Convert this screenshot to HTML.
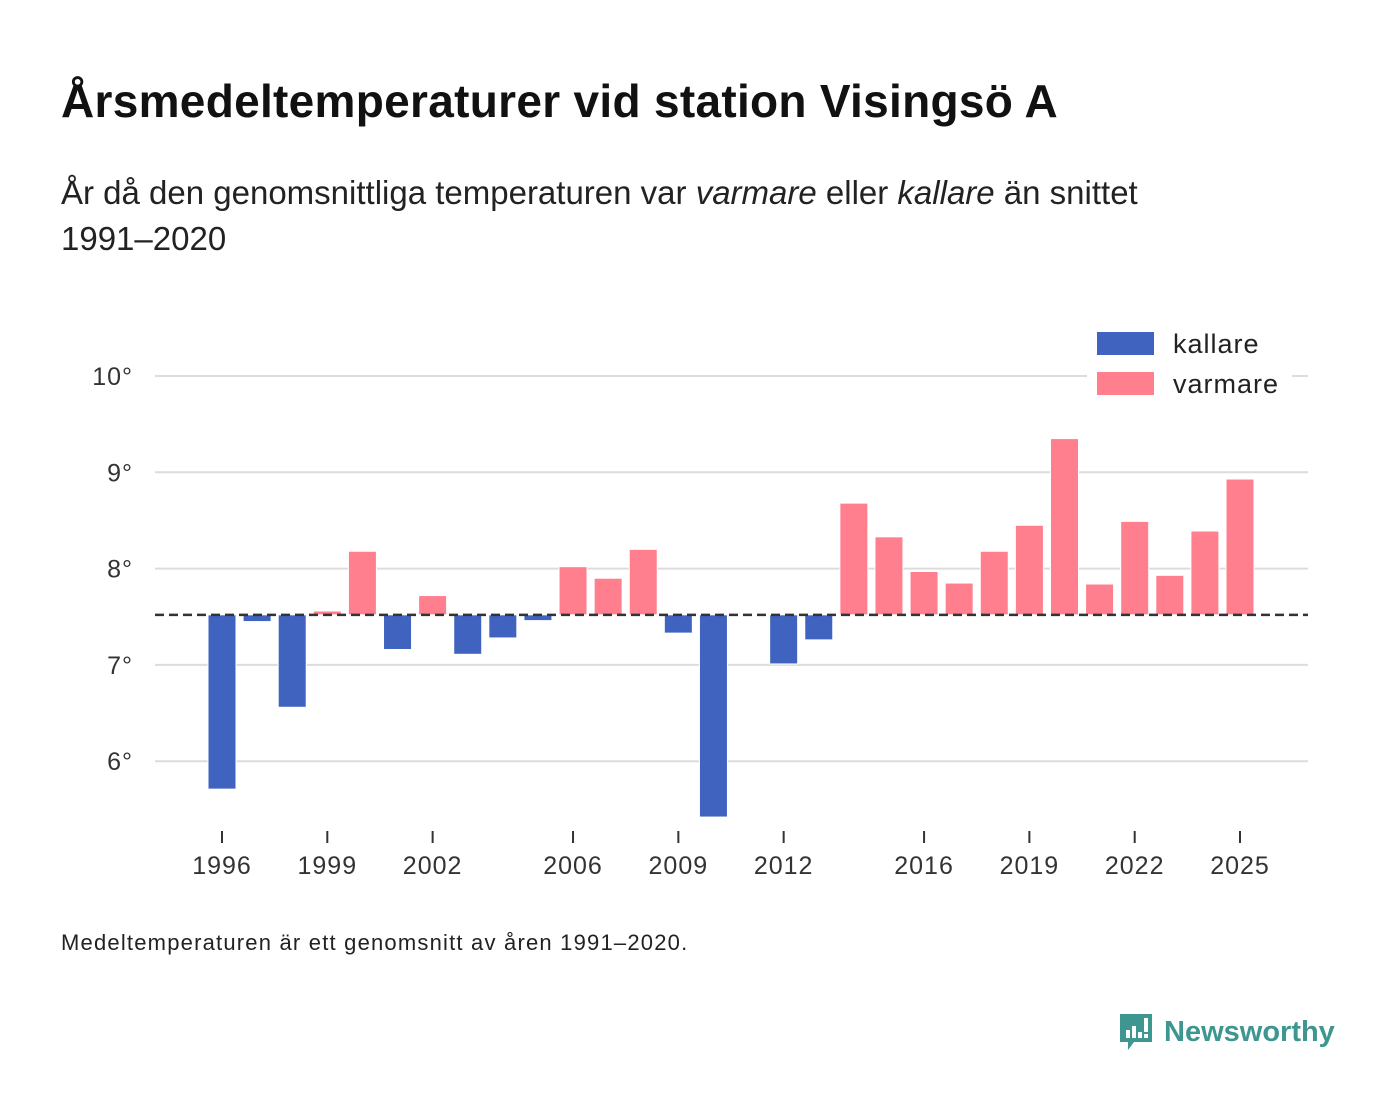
<!DOCTYPE html>
<html><head><meta charset="utf-8"><style>
body{margin:0;width:1400px;height:1116px;background:#fff;font-family:"Liberation Sans","DejaVu Sans",sans-serif;color:#111;overflow:hidden;position:relative}
.t{position:absolute;left:61px;top:74px;font-size:46px;font-weight:bold;margin:0;letter-spacing:0.3px}
.s{position:absolute;left:61px;top:170px;font-size:33px;line-height:46px;width:1190px;color:#222}
.f{position:absolute;left:61px;top:930px;font-size:22px;color:#222;letter-spacing:1.2px}
.logo{position:absolute;left:1118px;top:1010px;display:flex;align-items:center;color:#3d9690;font-size:29px;font-weight:bold}
</style></head><body>
<h1 class="t">Årsmedeltemperaturer vid station Visingsö A</h1>
<div class="s">År då den genomsnittliga temperaturen var <i>varmare</i> eller <i>kallare</i> än snittet <span style="white-space:nowrap">1991–2020</span></div>
<svg id="chart" width="1400" height="1116" style="position:absolute;left:0;top:0"></svg>
<div class="f">Medeltemperaturen är ett genomsnitt av åren 1991–2020.</div>
<div class="logo"><svg width="36" height="44" viewBox="0 0 36 44"><path d="M2 4h32v28H16l-6 8v-8H2z" fill="#3d9690"/><rect x="8" y="20" width="4" height="8" fill="#fff"/><rect x="14" y="16" width="4" height="12" fill="#fff"/><rect x="20" y="22" width="4" height="6" fill="#fff"/><rect x="26" y="8" width="4" height="14" fill="#fff"/><rect x="26" y="24" width="4" height="4" fill="#fff"/></svg><span style="margin-left:10px">Newsworthy</span></div>
<script>
const years=[1996,1997,1998,1999,2000,2001,2002,2003,2004,2005,2006,2007,2008,2009,2010,2012,2013,2014,2015,2016,2017,2018,2019,2020,2021,2022,2023,2024,2025];
const temps=[5.71,7.45,6.56,7.56,8.18,7.16,7.72,7.11,7.28,7.46,8.02,7.90,8.20,7.33,5.42,7.01,7.26,8.68,8.33,7.97,7.85,8.18,8.45,9.35,7.84,8.49,7.93,8.39,8.93];
const baseline=7.52;
const yTicks=[6,7,8,9,10];
const xTicks=[1996,1999,2002,2006,2009,2012,2016,2019,2022,2025];
const svg=document.getElementById('chart');
const NS='http://www.w3.org/2000/svg';
const x=yr=>222+(yr-1996)*(1240-222)/29;
const y=v=>376+(10-v)*96.3;
function mk(t,a){const e=document.createElementNS(NS,t);for(const k in a)e.setAttribute(k,a[k]);svg.appendChild(e);return e;}
yTicks.forEach(v=>{
 const l=mk('line',{x1:155,x2:1308,y1:y(v),y2:y(v),stroke:'#dcdcdc','stroke-width':2});
 
 
 const t=mk('text',{x:133,y:y(v)+9,'text-anchor':'end','font-size':25,fill:'#333','letter-spacing':1});
 t.textContent=v+'°';
 
 
});
xTicks.forEach(yr=>{
 const l=mk('line',{x1:x(yr),x2:x(yr),y1:831,y2:843,stroke:'#333','stroke-width':2});
 
 
 const t=mk('text',{x:x(yr),y:874,'text-anchor':'middle','font-size':25,fill:'#333','letter-spacing':1});
 t.textContent=yr;
 
 
});
years.forEach((yr,i)=>{
 const v=temps[i],y0=y(baseline),y1=y(v);
 const r=mk('rect',{x:x(yr)-14,width:28,y:Math.min(y0,y1),height:Math.abs(y1-y0),fill:v<baseline?'#3f63bf':'#ff7f8e',stroke:'#fff','stroke-width':1});
 
 
});
const bl=mk('line',{x1:155,x2:1308,y1:y(baseline),y2:y(baseline),stroke:'#333','stroke-width':2.5,'stroke-dasharray':'9,5'});


const lg=mk('rect',{x:1087,y:325,width:205,height:85,fill:'#fff'});


[['kallare','#3f63bf',332],['varmare','#ff7f8e',372]].forEach(([n,c,yy])=>{
 const r=mk('rect',{x:1097,y:yy,width:57,height:23,fill:c});
 
 
 const t=mk('text',{x:1173,y:yy+21,'font-size':27,fill:'#222','letter-spacing':1});
 t.textContent=n;
 
 
});
</script>
</body></html>
